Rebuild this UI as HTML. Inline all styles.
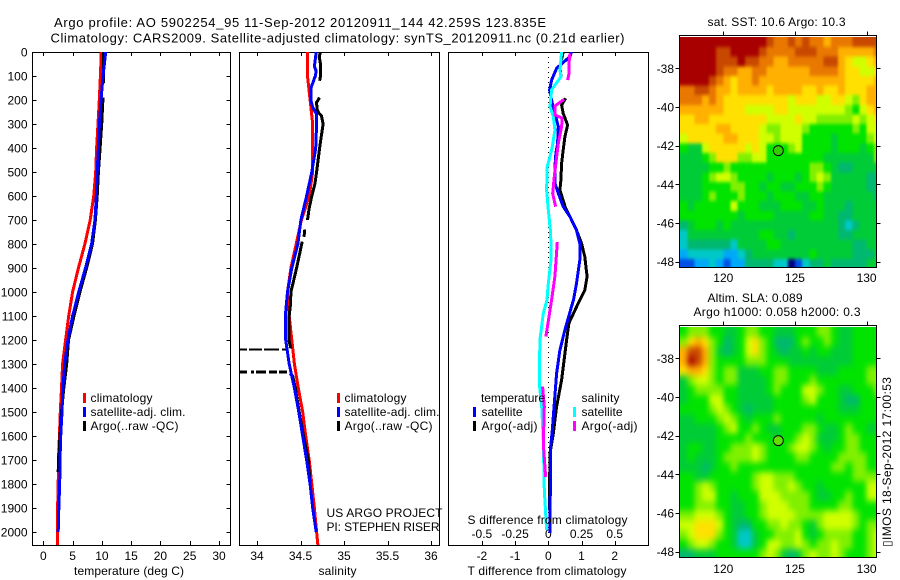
<!DOCTYPE html>
<html lang="en">
<head>
<meta charset="utf-8">
<title>Argo profile</title>
<style>
html,body{margin:0;padding:0;background:#fff;width:900px;height:580px;overflow:hidden}
svg{display:block;font-family:"Liberation Sans",Arial,sans-serif;font-size:12px;fill:#000}
text{fill:#000}
</style>
</head>
<body>
<svg id="chart" width="900" height="580" viewBox="0 0 900 580" xmlns="http://www.w3.org/2000/svg">
<defs>
<clipPath id="clip-temp"><rect x="32" y="52" width="199" height="493"/></clipPath>
<clipPath id="clip-sal"><rect x="239" y="52" width="200" height="493"/></clipPath>
<clipPath id="clip-diff"><rect x="448" y="52" width="200" height="493"/></clipPath>
<clipPath id="clip-sst"><rect x="680" y="37" width="196" height="230"/></clipPath>
<clipPath id="clip-sla"><rect x="680" y="327" width="196" height="230"/></clipPath>
<filter id="soft-sst" x="-5%" y="-5%" width="110%" height="110%" color-interpolation-filters="sRGB">
<feGaussianBlur stdDeviation="1.4 1.8"/>
<feComponentTransfer><feFuncA type="linear" slope="100"/></feComponentTransfer>
</filter>
<filter id="soft-sla" x="-5%" y="-5%" width="110%" height="110%" color-interpolation-filters="sRGB">
<feGaussianBlur stdDeviation="2.6 3.4"/>
<feComponentTransfer><feFuncA type="linear" slope="100"/></feComponentTransfer>
</filter>
</defs>
<text x="54" y="27" font-size="13" textLength="492" lengthAdjust="spacing">Argo profile: AO 5902254_95 11-Sep-2012 20120911_144 42.259S 123.835E</text>
<text x="50.5" y="42.5" font-size="13" textLength="574" lengthAdjust="spacing">Climatology: CARS2009. Satellite-adjusted climatology: synTS_20120911.nc (0.21d earlier)</text>

<g id="panel-temp"></g>
<g id="panel-sal"></g>
<g id="panel-diff"></g>
<g id="map-sst"></g>
<g id="map-sla"></g>

<text x="74" y="575" textLength="110" lengthAdjust="spacing">temperature (deg C)</text>
<text x="318.5" y="575" textLength="38" lengthAdjust="spacing">salinity</text>
<text x="467.5" y="575" textLength="159" lengthAdjust="spacing">T difference from climatology</text>
<text x="467.5" y="524" textLength="160" lengthAdjust="spacing">S difference from climatology</text>

<g shape-rendering="crispEdges">
<rect x="83" y="393" width="3" height="10" style="fill:#f00"/>
<rect x="83" y="407" width="3" height="10" style="fill:#00f"/>
<rect x="83" y="421" width="3" height="10" style="fill:#000"/>
</g>
<text x="90.5" y="402" textLength="62" lengthAdjust="spacing">climatology</text>
<text x="90.5" y="416" textLength="95" lengthAdjust="spacing">satellite-adj. clim.</text>
<text x="90.5" y="430" textLength="88" lengthAdjust="spacing">Argo(..raw -QC)</text>

<g shape-rendering="crispEdges">
<rect x="337" y="393" width="3" height="10" style="fill:#f00"/>
<rect x="337" y="407" width="3" height="10" style="fill:#00f"/>
<rect x="337" y="421" width="3" height="10" style="fill:#000"/>
</g>
<text x="344.5" y="402" textLength="62" lengthAdjust="spacing">climatology</text>
<text x="344.5" y="416" textLength="95" lengthAdjust="spacing">satellite-adj. clim.</text>
<text x="344.5" y="430" textLength="88" lengthAdjust="spacing">Argo(..raw -QC)</text>

<g shape-rendering="crispEdges">
<rect x="473" y="407" width="3" height="10" style="fill:#00f"/>
<rect x="473" y="421" width="3" height="10" style="fill:#000"/>
<rect x="573" y="407" width="3" height="10" style="fill:#0ff"/>
<rect x="573" y="421" width="3" height="10" style="fill:#f0f"/>
</g>
<text x="481" y="402" textLength="64" lengthAdjust="spacing">temperature</text>
<text x="481.5" y="416" textLength="41" lengthAdjust="spacing">satellite</text>
<text x="481.5" y="430" textLength="56" lengthAdjust="spacing">Argo(-adj)</text>
<text x="581.5" y="402" textLength="38" lengthAdjust="spacing">salinity</text>
<text x="581.5" y="416" textLength="41" lengthAdjust="spacing">satellite</text>
<text x="581.5" y="430" textLength="56" lengthAdjust="spacing">Argo(-adj)</text>

<text x="326.5" y="517" textLength="116" lengthAdjust="spacing">US ARGO PROJECT</text>
<text x="326.5" y="531" textLength="113" lengthAdjust="spacing">PI: STEPHEN RISER</text>

<text x="707.5" y="26" textLength="138" lengthAdjust="spacing">sat. SST: 10.6 Argo: 10.3</text>
<text x="707.5" y="302" textLength="95" lengthAdjust="spacing">Altim. SLA: 0.089</text>
<text x="693.5" y="316" textLength="167" lengthAdjust="spacing">Argo h1000: 0.058 h2000: 0.3</text>
<text transform="translate(891,547) rotate(-90)" textLength="170" lengthAdjust="spacing">▯IMOS 18-Sep-2012 17:00:53</text>
</svg>

<script>
// ---- depth axis ----
const depthTicks = [0,100,200,300,400,500,600,700,800,900,1000,1100,1200,1300,1400,1500,1600,1700,1800,1900,2000];
const tempTicks = [0,5,10,15,20,25,30];
const salTicks = [34,34.5,35,35.5,36];
const salTickLabels = ["34","34.5","35","35.5","36"];
const tDiffTicks = [-2,-1,0,1,2];
const tDiffLabels = ["-2","-1","0","1","2"];
const sDiffTicks = [-0.5,-0.25,0,0.25,0.5];
const sDiffLabels = ["-0.5","-0.25","0","0.25","0.5"];
const lonTicks = [120,125,130];
const latTicks = [-38,-40,-42,-44,-46,-48];

// ---- temperature profiles ----
const climDepths = [0,100,200,300,400,500,600,700,800,900,1000,1100,1200,1300,1400,1500,1600,1700,1800,1900,2000,2055];
const climTemp = [9.9,9.75,9.56,9.34,9.1,8.95,8.6,8.0,7.1,6.0,5.0,4.33,3.8,3.3,3.1,2.9,2.75,2.6,2.55,2.45,2.45,2.4];
const satDepths = [0,100,200,300,400,500,600,700,800,900,1000,1100,1200,1300,1400,1500,1600,1700,1800,1900,2000];
const satTemp = [10.65,10.2,9.85,9.57,9.4,9.2,9.05,8.83,8.25,7.2,6.05,5.0,4.2,3.65,3.35,3.2,2.97,2.85,2.8,2.65,2.55];
const argoTempDepths = [0,100,130,160,190,300,400,500,600,700,800,900,1000,1100,1200,1300,1400,1500,1700,1750];
const argoTemp = [10.3,10.3,10.25,null,10.2,9.97,9.7,9.4,9.2,8.9,8.4,7.4,6.25,5.25,4.3,4.0,3.5,3.1,2.6,2.55];

// ---- salinity profiles ----
const climSal = [34.58,34.58,34.61,34.64,34.64,34.64,34.6,34.51,34.45,34.39,34.35,34.37,34.40,34.43,34.475,34.525,34.56,34.6,34.63,34.66,34.685,34.7];
const satSalDepths = [0,30,60,80,100,130,150,200,230,260,300,400,500,600,700,800,900,1000,1100,1200,1300,1400,1500,1600,1700,1800,1900,2000];
const satSal = [34.68,34.67,34.66,34.68,34.67,34.64,34.62,34.62,34.64,34.685,34.685,34.675,34.63,34.57,34.505,34.47,34.40,34.35,34.325,34.33,34.37,34.43,34.48,34.525,34.57,34.61,34.64,34.68];
const argoSalDepths = [0,20,50,100,120,125,190,210,240,255,265,300,400,500,550,600,650,700,720,740,770,780,790,900,1000,1050,1100,1200,1235,1245,1340,1350,1400,1500,1600,1700,1800,1900,2000];
const argoSal = [34.73,34.715,34.73,34.73,34.72,null,34.72,34.685,34.69,34.71,34.74,34.76,34.72,34.685,34.665,34.63,34.6,34.58,null,34.55,34.54,null,34.52,34.455,34.39,34.385,34.37,34.365,34.39,null,34.38,34.41,34.44,34.485,34.535,34.59,34.61,34.64,34.68];
const spikeDepths = [1240,1333];
const spikeEndSal = [34.38,34.4];

// ---- differences from climatology ----
const diffTempSatDepths = [0,19,47,68,117,158,200,235,283,311,381,422,478,547,589,644,686,742,797,867,964,1033,1061,1158,1242,1339,1464,1575,1658,1825,2005];
const diffTempSat = [0.70,0.65,0.42,0.25,0.10,0.04,0.10,0.15,0.25,0.30,0.28,0.23,0.20,0.20,0.30,0.45,0.65,0.85,0.95,0.95,0.85,0.76,0.70,0.50,0.35,0.25,0.18,0.12,0.06,0.06,0.05];
const diffTempArgoDepths = [0,61,100,130,193,221,256,304,353,408,464,533,575,651,686,742,797,853,936,992,1047,1130,1200,1367,1478,1589,1672,1908];
const diffTempArgo = [0.45,0.35,0.38,null,0.52,0.40,0.45,0.58,0.50,0.45,0.40,0.38,0.35,0.52,0.65,0.85,1.0,1.1,1.17,1.10,0.90,0.62,0.55,0.40,0.25,0.15,0.05,0.03];
const diffSalSatDepths = [0,75,103,158,228,269,325,394,436,478,575,658,756,867,964,1033,1089,1200,1381,1478,1617,1825,1992];
const diffSalSat = [0.10,0.088,0.095,0.025,0.013,0.038,0.05,0.03,0.013,-0.008,-0.013,0,0.018,0.02,0,-0.01,-0.038,-0.063,-0.068,-0.05,-0.038,-0.03,-0.013];
const diffSalArgoDepths = [6,47,89,117,150,197,225,262,276,311,381,436,519,589,644,700,792,936,1033,1103,1186,1290,1394,1478,1631,1770];
const diffSalArgo = [0.163,0.156,0.156,0.146,null,0.12,0.05,0.05,0.105,0.10,0.075,0.063,0.045,0.033,0.055,null,0.068,0.05,0.025,0.005,-0.018,null,-0.043,-0.03,-0.038,-0.02];

// ---- map grids: colour level per cell, 28 columns x 24 rows ----
const sstGrid = [
[13,13,13,13,13,13,13,13,13,13,13,13,12,11,11,12,11,12,11,11,10,11,11,11,12,12,12,12],
[13,13,13,13,13,12,12,13,13,13,13,12,11,11,11,11,12,12,12,11,11,11,10,10,10,10,10,11],
[13,13,13,13,13,12,12,12,13,12,12,11,11,10,10,11,11,11,11,11,12,12,10,9,8,8,9,10],
[13,13,13,13,13,12,11,11,10,10,11,11,10,10,10,10,10,10,11,11,11,11,10,9,9,8,8,9],
[13,13,13,13,12,11,10,9,10,10,11,10,10,10,10,10,10,10,10,10,10,10,10,9,9,9,9,10],
[11,11,12,12,11,10,10,9,10,10,10,10,9,10,10,10,10,9,9,10,9,9,10,9,9,9,10,10],
[11,11,11,10,11,10,9,9,9,9,9,9,9,9,9,8,9,9,9,8,8,9,9,8,7,9,10,10],
[10,10,10,10,10,10,9,9,9,8,8,8,8,9,9,8,8,8,8,8,8,8,8,7,6,8,9,10],
[9,9,10,10,9,9,9,9,9,9,9,9,8,8,8,8,9,8,8,7,7,7,7,7,8,7,8,9],
[9,9,9,9,9,10,10,9,9,9,9,8,7,7,8,8,8,7,6,6,6,6,6,6,7,6,8,8],
[8,9,9,9,9,9,10,10,9,9,9,8,8,7,8,8,8,6,6,6,6,5,6,6,6,6,7,8],
[6,5,5,8,9,9,9,9,9,8,9,8,6,6,6,7,8,6,6,6,6,5,6,6,6,5,6,7],
[5,5,5,6,7,9,9,9,7,7,8,8,6,6,6,6,6,6,6,6,5,5,5,5,5,5,5,7],
[5,5,5,5,6,6,7,6,6,6,6,6,6,6,6,6,6,6,7,7,6,5,4,4,5,5,5,5],
[5,5,5,6,7,8,8,7,6,6,6,6,5,6,6,6,5,6,7,8,7,5,5,5,5,5,4,4],
[5,5,5,6,6,6,6,7,7,6,6,5,6,6,5,5,6,6,6,7,6,5,5,5,5,5,4,4],
[5,5,5,6,7,6,6,6,7,6,6,6,5,6,6,6,5,5,6,6,5,5,5,5,5,5,5,4],
[6,5,6,6,6,6,6,8,6,6,6,5,5,5,6,6,6,5,5,6,5,5,5,4,5,5,5,5],
[6,6,6,6,6,6,6,6,5,6,6,6,6,5,5,5,5,5,6,6,5,5,4,4,5,5,5,5],
[4,5,6,6,6,5,6,5,5,5,5,5,5,5,5,5,5,5,5,5,5,5,4,3,4,5,5,5],
[3,5,5,5,5,5,5,5,5,5,5,6,6,5,5,4,5,5,5,5,5,5,4,4,5,5,5,5],
[3,4,4,4,4,4,4,3,5,5,5,5,6,6,5,5,5,5,5,5,5,5,5,5,4,4,5,5],
[2,3,3,3,3,3,2,2,3,4,5,5,5,5,5,5,5,5,6,5,5,5,5,5,4,4,4,5],
[1,1,2,2,3,2,1,2,2,4,4,4,4,3,3,0,1,3,4,4,5,4,4,4,4,4,5,5]
];
const slaGrid = [
[6,7,7,7,6,6,5,5,6,7,7,6,6,5,5,5,6,6,6,7,7,6,5,5,6,6,6,6],
[7,9,10,9,7,6,4,5,6,8,9,7,6,4,4,4,6,7,6,6,7,6,5,5,6,6,6,6],
[10,12,12,10,7,5,4,5,6,8,9,7,6,5,4,5,5,6,5,6,6,5,5,5,6,6,6,6],
[10,13,12,10,7,6,6,6,6,7,7,7,6,6,6,5,5,5,5,5,5,5,5,5,6,6,6,6],
[9,10,10,9,7,6,7,7,5,5,5,6,6,7,7,6,6,6,6,5,5,5,6,6,6,6,7,7],
[5,7,8,8,7,6,7,7,5,5,5,5,6,7,7,6,6,6,7,6,6,6,6,6,6,6,7,7],
[5,6,7,7,7,7,6,6,5,5,5,5,6,7,6,6,6,8,8,7,6,6,5,5,6,6,6,7],
[5,6,6,6,8,8,6,6,5,5,5,5,5,6,6,6,6,7,8,6,6,6,5,4,4,6,6,6],
[6,6,6,6,7,8,7,6,5,4,5,5,5,6,6,6,6,6,6,6,6,6,5,5,5,6,6,6],
[5,5,6,6,6,7,8,7,6,5,6,6,6,7,6,6,6,6,6,5,6,6,6,6,6,6,6,6],
[5,5,5,5,5,6,7,8,6,6,7,6,5,5,6,6,6,7,7,6,5,5,6,7,6,6,5,5],
[5,5,5,5,5,6,6,6,6,7,6,6,6,5,6,6,7,8,7,5,5,5,6,7,7,6,6,6],
[5,6,6,5,5,6,6,7,7,7,8,7,6,6,6,7,8,8,7,6,5,6,6,7,7,6,6,6],
[5,6,5,5,5,6,7,7,7,7,8,7,6,6,6,6,7,7,6,6,6,6,7,7,7,7,6,6],
[5,5,5,4,5,6,6,7,6,6,6,6,6,6,6,6,6,6,6,6,6,7,7,6,7,7,6,6],
[6,6,5,5,6,6,6,6,6,6,7,8,8,7,7,7,6,6,6,6,6,6,6,6,7,7,7,7],
[6,6,7,8,7,6,6,6,6,6,7,8,8,7,7,8,7,6,6,5,6,6,6,6,6,6,8,8],
[6,6,7,8,8,6,6,5,6,6,6,8,8,8,7,7,7,7,6,5,5,6,6,7,6,6,8,8],
[6,6,7,7,7,6,6,5,5,6,6,7,8,8,8,7,7,7,6,6,6,6,7,7,6,6,6,6],
[7,7,8,8,8,7,6,5,5,6,6,7,8,8,8,8,7,7,7,7,8,8,8,8,7,6,6,6],
[8,8,9,9,9,8,6,5,4,4,6,6,7,7,8,7,7,6,5,7,8,8,8,8,7,6,7,7],
[7,8,9,9,9,7,6,5,3,3,5,6,6,7,7,7,8,6,5,6,7,7,7,7,6,6,7,8],
[6,7,8,8,7,6,6,5,3,3,5,6,8,8,7,7,8,7,6,7,7,8,7,7,6,6,7,8],
[4,4,5,5,5,6,6,6,6,6,6,7,8,7,5,4,5,7,8,7,7,8,7,6,6,6,7,8]
];
const argoLon = [123.835];
const argoLat = [-42.259];

// colour scale, dark blue through green to dark red
const levelColours = ["#00007f","#0050e8","#00a8f8","#00c8c8","#00b870","#00cc38","#00e400","#80f000","#d0ff00","#ffe000","#ffb000","#e87800","#c84800","#a80000"];

// ---- axis functions ----
const yDepth = d => 52 + d * 0.24;
const xTemp = t => 43.3 + t * 5.857;
const xSal = s => 257 + (s - 34) * 87;
const xTDiff = v => 548.3 + v * 33.2;
const xSDiff = v => 548.3 + v * 132.8;
const xLon = lon => 723.3 + (lon - 120) * 14.33;
const ySst = lat => 68.3 + (-38 - lat) * 19.33;
const ySla = lat => 358.3 + (-38 - lat) * 19.33;

const NS = "http://www.w3.org/2000/svg";

function line(parent, x1, y1, x2, y2) {
  const el = document.createElementNS(NS, "line");
  el.setAttribute("x1", x1);
  el.setAttribute("y1", y1);
  el.setAttribute("x2", x2);
  el.setAttribute("y2", y2);
  el.setAttribute("stroke", "#000");
  el.setAttribute("stroke-width", "1");
  el.setAttribute("shape-rendering", "crispEdges");
  
  
  parent.appendChild(el);
  return el;
}

function label(parent, x, y, str, anchor) {
  const el = document.createElementNS(NS, "text");
  el.setAttribute("x", x);
  el.setAttribute("y", y);
  el.setAttribute("text-anchor", anchor);
  el.textContent = str;
  
  
  parent.appendChild(el);
  return el;
}

function frame(parent, x, y, w, h) {
  const el = document.createElementNS(NS, "rect");
  el.setAttribute("x", x);
  el.setAttribute("y", y);
  el.setAttribute("width", w);
  el.setAttribute("height", h);
  el.setAttribute("style", "fill:none;stroke:#000;stroke-width:1");
  el.setAttribute("shape-rendering", "crispEdges");
  
  
  parent.appendChild(el);
}

function series(parent, name, depths, values, xFn, colour, width, clip) {
  let d = "";
  let pen = false;
  for (let i = 0; i < values.length; i++) {
    if (values[i] === null) { pen = false; continue; }
    d += (pen ? "L" : "M") + xFn(values[i]).toFixed(1) + " " + yDepth(depths[i]).toFixed(1);
    pen = true;
  }
  const el = document.createElementNS(NS, "path");
  el.setAttribute("d", d);
  el.setAttribute("style", "fill:none;stroke:" + colour + ";stroke-width:" + width);
  el.setAttribute("shape-rendering", "crispEdges");
  el.setAttribute("clip-path", "url(#" + clip + ")");
  
  
  parent.appendChild(el);
  return el;
}

function heatmap(parent, grid, yFn, clipId, filterId) {
  const outer = document.createElementNS(NS, "g");
  outer.setAttribute("clip-path", "url(#" + clipId + ")");
  
  
  parent.appendChild(outer);
  const inner = document.createElementNS(NS, "g");
  inner.setAttribute("filter", "url(#" + filterId + ")");
  
  
  outer.appendChild(inner);
  const rows = grid.length;
  for (let r = 0; r < rows; r++) {
    for (let c = 0; c < grid[r].length; c++) {
      const x0 = xLon(117 + c * 0.5);
      const x1 = xLon(117.5 + c * 0.5);
      const top = yFn(-36.4 - r * 0.4985);
      const bot = yFn(-36.4 - (r + 1) * 0.4985);
      const el = document.createElementNS(NS, "rect");
      el.setAttribute("x", x0.toFixed(1));
      el.setAttribute("y", top.toFixed(1));
      el.setAttribute("width", (x1 - x0 + 0.4).toFixed(1));
      el.setAttribute("height", (bot - top + 0.4).toFixed(1));
      el.setAttribute("style", "fill:" + levelColours[grid[r][c]]);
      el.setAttribute("shape-rendering", "crispEdges");
      
      
      inner.appendChild(el);
    }
  }
}

function mapAxes(parent, yFn, top, bottom, labelY, fill) {
  frame(parent, 679.5, top, 197, bottom - top);
  lonTicks.forEach(lon => {
    const x = Math.round(xLon(lon)) + 0.5;
    line(parent, x, top - 4, x, top);
    label(parent, xLon(lon), labelY, String(lon), "middle");
  });
  latTicks.forEach(lat => {
    const y = Math.round(yFn(lat)) + 0.5;
    line(parent, 876.5, y, 880.5, y);
    line(parent, 675.5, y, 679.5, y);
    label(parent, 674, yFn(lat) + 4.5, String(lat), "end");
  });
  const c = document.createElementNS(NS, "circle");
  c.setAttribute("cx", xLon(argoLon[0]).toFixed(1));
  c.setAttribute("cy", yFn(argoLat[0]).toFixed(1));
  c.setAttribute("r", "5");
  c.setAttribute("style", "fill:" + fill + ";stroke:#000;stroke-width:1");
  
  
  parent.appendChild(c);
}

function xTicks(parent, ticks, labels, xFn, skipTop) {
  ticks.forEach((t, i) => {
    const x = Math.round(xFn(t)) + 0.5;
    if (!(skipTop && t === 0)) line(parent, x, 52, x, 56);
    line(parent, x, 541, x, 545);
    label(parent, xFn(t), 560, labels[i], "middle");
  });
}

// ---- temperature panel ----
const pT = document.getElementById("panel-temp");
frame(pT, 32.5, 52.5, 198, 493);
xTicks(pT, tempTicks, tempTicks.map(String), xTemp, false);
depthTicks.forEach(d => {
  const y = Math.round(yDepth(d)) + 0.5;
  line(pT, 32.5, y, 36.5, y);
  line(pT, 226.5, y, 230.5, y);
  label(pT, 27.5, yDepth(d) + 4.5, String(d), "end");
});
series(pT, "temperature-climatology-line", climDepths, climTemp, xTemp, "#f00", 3, "clip-temp");
series(pT, "temperature-argo-line", argoTempDepths, argoTemp, xTemp, "#000", 3, "clip-temp");
series(pT, "temperature-satellite-line", satDepths, satTemp, xTemp, "#00f", 3, "clip-temp");

// ---- salinity panel ----
const pS = document.getElementById("panel-sal");
frame(pS, 239.5, 52.5, 200, 493);
xTicks(pS, salTicks, salTickLabels, xSal, false);
series(pS, "salinity-climatology-line", climDepths, climSal, xSal, "#f00", 3, "clip-sal");
series(pS, "salinity-argo-line", argoSalDepths, argoSal, xSal, "#000", 3, "clip-sal");
spikeDepths.forEach((d, i) => {
  const el = series(pS, "salinity-argo-spike", [d, d], [33.78, spikeEndSal[i]], xSal, "#000", i === 0 ? 2 : 3, "clip-sal");
  el.setAttribute("stroke-dasharray", i === 0 ? "9 2 13 2 15 3 6" : "9 4 3 2 10 3 8 2 8");
});
series(pS, "salinity-satellite-line", satSalDepths, satSal, xSal, "#00f", 3, "clip-sal");

// ---- difference panel ----
const pD = document.getElementById("panel-diff");
frame(pD, 448.5, 52.5, 200, 493);
xTicks(pD, tDiffTicks, tDiffLabels, xTDiff, true);
sDiffTicks.forEach((t, i) => {
  label(pD, xSDiff(t), 538, sDiffLabels[i], "middle");
});
const zero = series(pD, "zero-reference-line", [0, 2055], [0, 0], xTDiff, "#000", 1, "clip-diff");
zero.setAttribute("stroke-dasharray", "1 4");
series(pD, "t-difference-argo-line", diffTempArgoDepths, diffTempArgo, xTDiff, "#000", 3, "clip-diff");
series(pD, "t-difference-satellite-line", diffTempSatDepths, diffTempSat, xTDiff, "#00f", 3, "clip-diff");
series(pD, "s-difference-satellite-line", diffSalSatDepths, diffSalSat, xSDiff, "#0ff", 3, "clip-diff");
series(pD, "s-difference-argo-line", diffSalArgoDepths, diffSalArgo, xSDiff, "#f0f", 3, "clip-diff");

// ---- maps ----
const mA = document.getElementById("map-sst");
heatmap(mA, sstGrid, ySst, "clip-sst", "soft-sst");
mapAxes(mA, ySst, 35.5, 267.5, 282, "#30d000");
const mB = document.getElementById("map-sla");
heatmap(mB, slaGrid, ySla, "clip-sla", "soft-sla");
mapAxes(mB, ySla, 325.5, 557.5, 573, "#60e000");
</script>
</body>
</html>
